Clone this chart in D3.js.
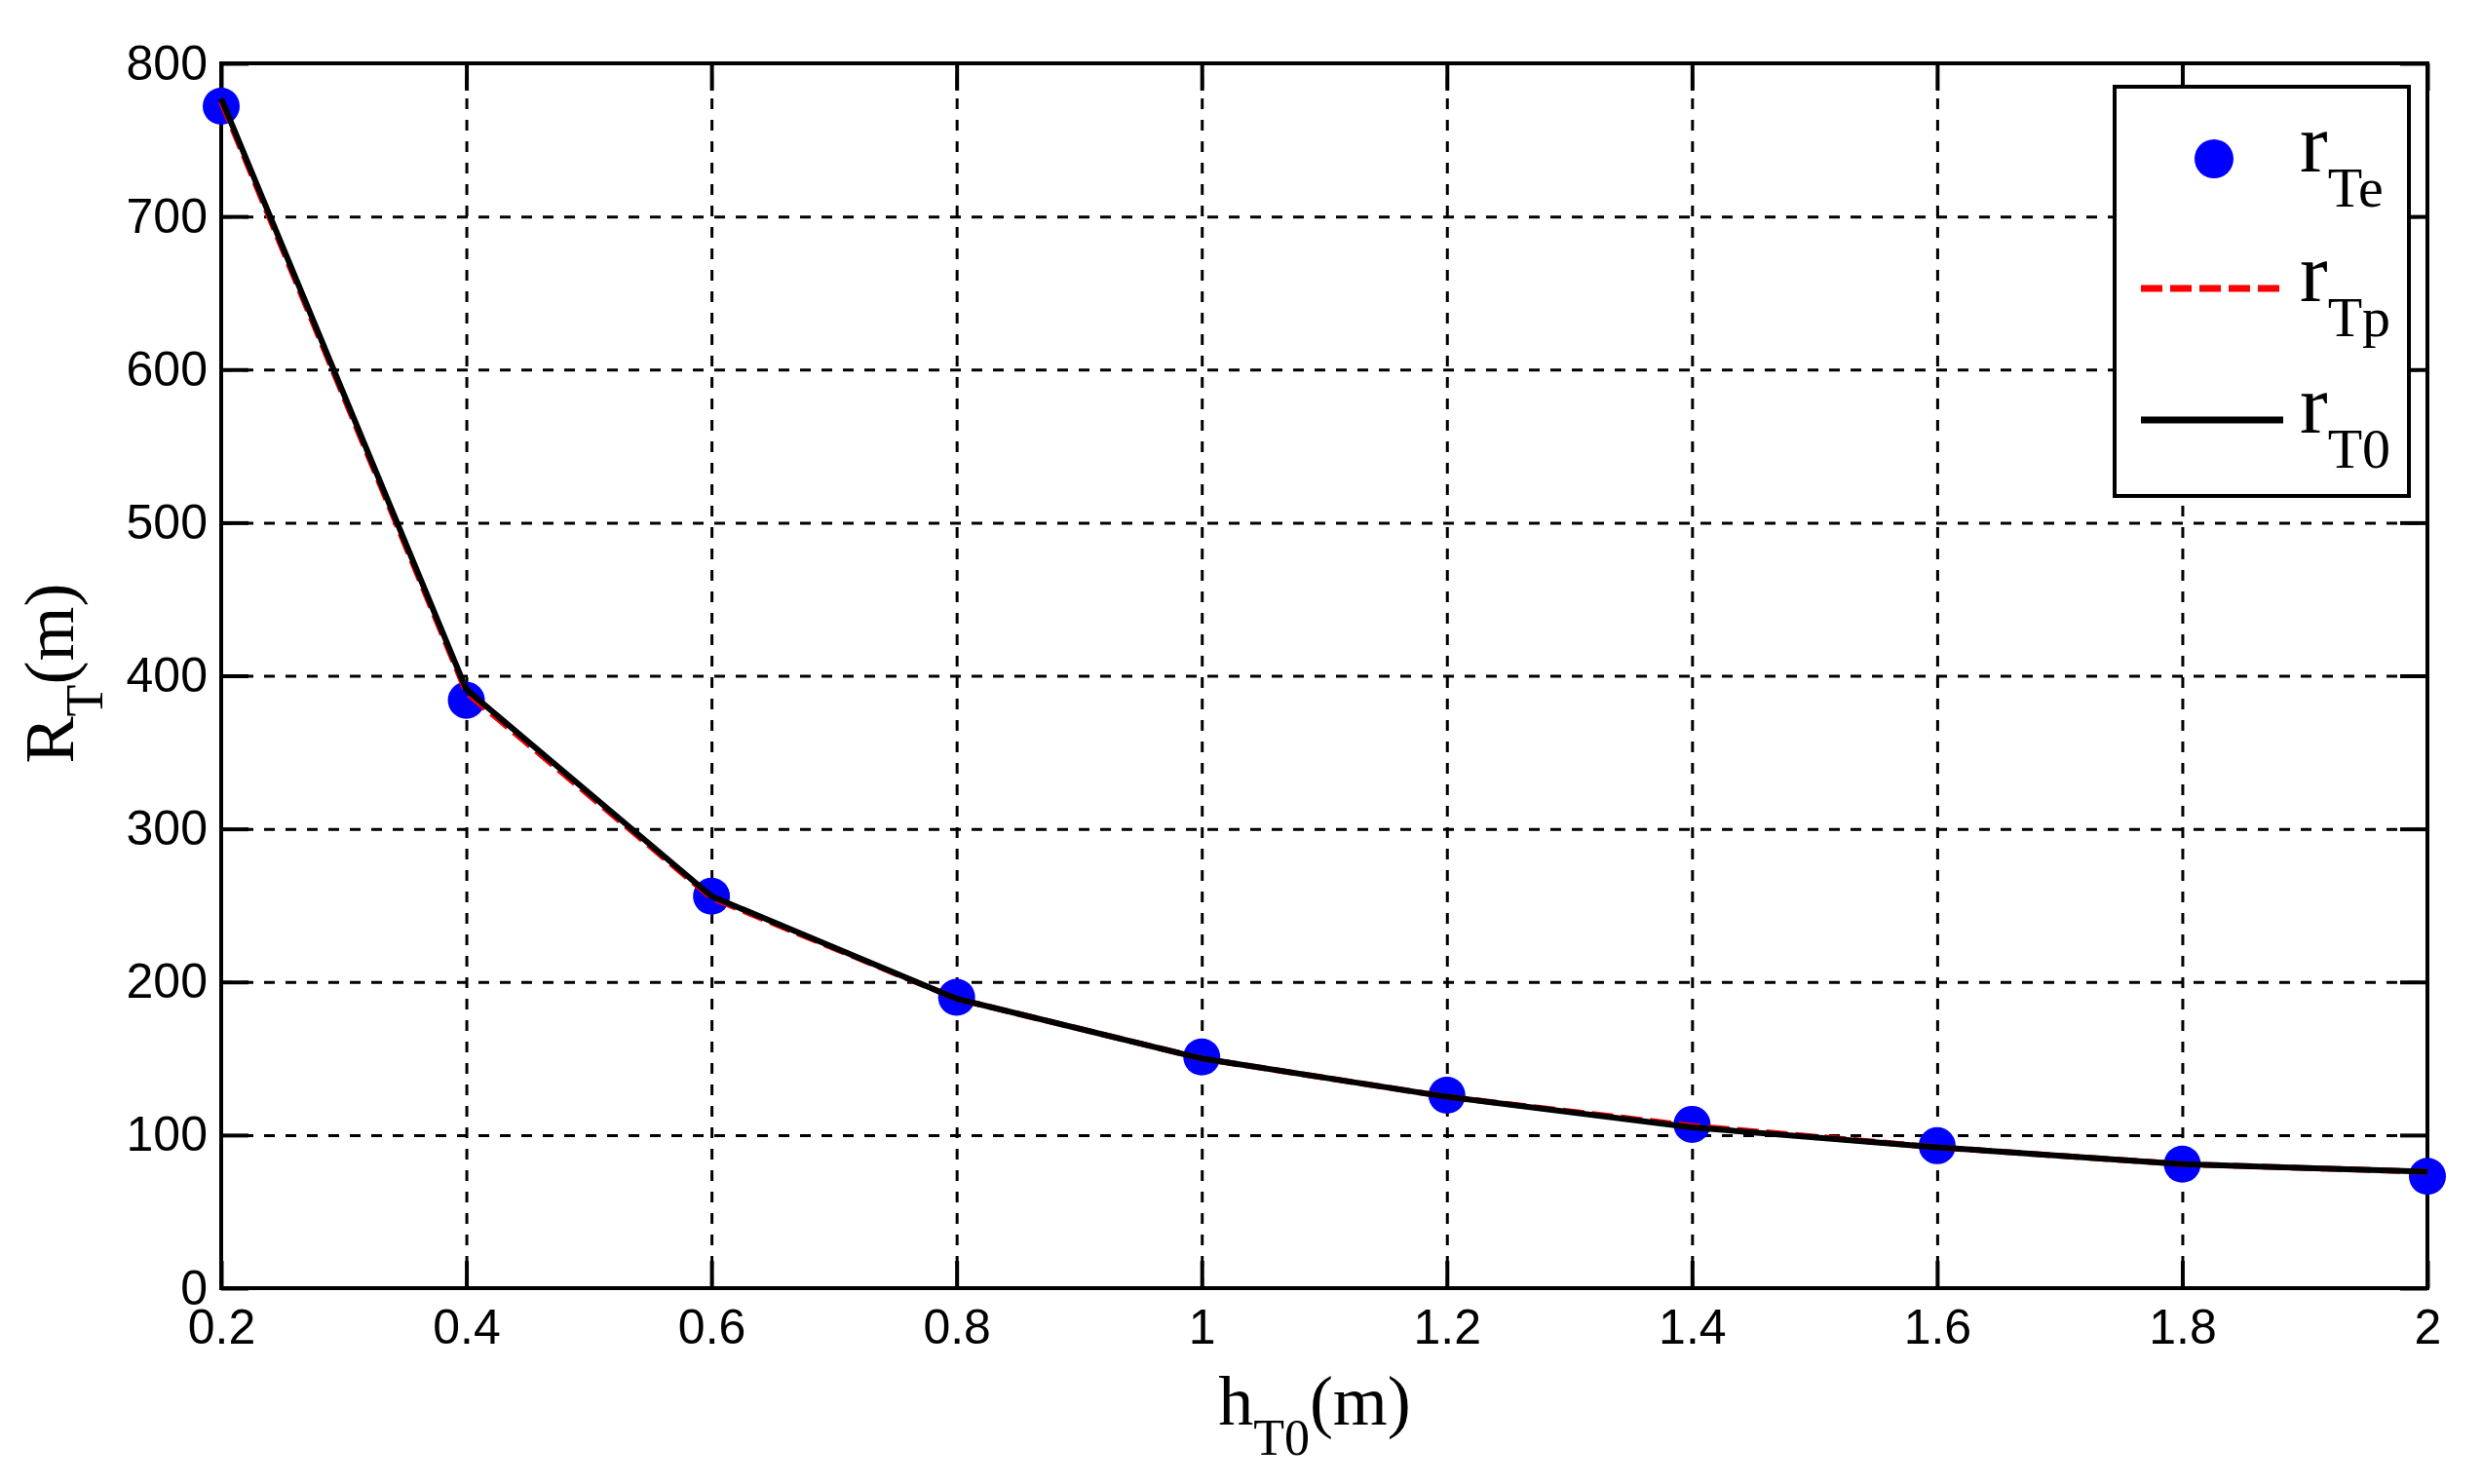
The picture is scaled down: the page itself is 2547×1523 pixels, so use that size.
<!DOCTYPE html>
<html>
<head>
<meta charset="utf-8">
<script src="https://cdn.jsdelivr.net/npm/d3@7"></script>
<style>
  html, body { margin: 0; padding: 0; background: #ffffff; }
  svg { display: block; }
</style>
</head>
<body>
<svg id="chart" width="2547" height="1523"></svg>
<script>
// ---- data ----
const hT0 = [0.2, 0.4, 0.6, 0.8, 1.0, 1.2, 1.4, 1.6, 1.8, 2.0];
const rTe = [772, 384, 256, 190, 151, 126, 107, 93, 81, 73];   // markers
const rTp = [775, 389, 255, 189, 150, 125, 106, 92, 81, 76];   // red dashed
const rT0 = [777, 391, 256, 189, 150, 125, 105, 92, 81, 76];   // black solid
const xTicks = [0.2, 0.4, 0.6, 0.8, 1.0, 1.2, 1.4, 1.6, 1.8, 2.0];
const xTickLabels = ["0.2", "0.4", "0.6", "0.8", "1", "1.2", "1.4", "1.6", "1.8", "2"];
const yTicks = [0, 100, 200, 300, 400, 500, 600, 700, 800];
const yTickLabels = ["0", "100", "200", "300", "400", "500", "600", "700", "800"];
const legendNames = [["r", "Te"], ["r", "Tp"], ["r", "T0"]];

// ---- layout ----
const L = 227, R = 2491, T = 65, B = 1322;
const svg = d3.select("#chart");
const x = d3.scaleLinear().domain([0.2, 2.0]).range([L, R]);
const y = d3.scaleLinear().domain([0, 800]).range([B, T]);
const tickFont = "'Liberation Sans', Arial, Helvetica, sans-serif";
const serif = "'Liberation Serif', 'Times New Roman', Times, serif";
const TL = 28;

svg.append("rect").attr("width", 2547).attr("height", 1523).attr("fill", "#fff");

// ---- grid ----
const gx = svg.append("g").attr("transform", `translate(0,${B})`)
  .call(d3.axisBottom(x).tickValues(xTicks).tickSize(-(B - T)).tickFormat(""));
gx.select(".domain").remove();
gx.selectAll("line").attr("stroke", "#000").attr("stroke-width", 3).attr("stroke-dasharray", "11,11");
const gy = svg.append("g").attr("transform", `translate(${L},0)`)
  .call(d3.axisLeft(y).tickValues(yTicks).tickSize(-(R - L)).tickFormat(""));
gy.select(".domain").remove();
gy.selectAll("line").attr("stroke", "#000").attr("stroke-width", 3).attr("stroke-dasharray", "11,11");

// ---- axes (inward ticks) ----
function styleAxis(g) {
  g.select(".domain").remove();
  g.selectAll(".tick line").attr("stroke", "#000").attr("stroke-width", 4);
  g.selectAll("text").attr("fill", "#000").attr("font-family", tickFont).attr("font-size", 50);
}
const xb = svg.append("g").attr("transform", `translate(0,${B})`)
  .call(d3.axisBottom(x).tickValues(xTicks).tickSize(-TL).tickPadding(21)
    .tickFormat((d, i) => xTickLabels[i]));
styleAxis(xb);
const xt = svg.append("g").attr("transform", `translate(0,${T})`)
  .call(d3.axisTop(x).tickValues(xTicks).tickSize(-TL).tickFormat(""));
styleAxis(xt);
const yl = svg.append("g").attr("transform", `translate(${L},0)`)
  .call(d3.axisLeft(y).tickValues(yTicks).tickSize(-TL).tickPadding(14)
    .tickFormat((d, i) => yTickLabels[i]));
styleAxis(yl);
const yr = svg.append("g").attr("transform", `translate(${R},0)`)
  .call(d3.axisRight(y).tickValues(yTicks).tickSize(-TL).tickFormat(""));
styleAxis(yr);

svg.append("rect").attr("x", L).attr("y", T).attr("width", R - L).attr("height", B - T)
  .attr("fill", "none").attr("stroke", "#000").attr("stroke-width", 4);

// ---- series ----
const pts = (vals) => hT0.map((h, i) => [h, vals[i]]);
const line = d3.line().x(d => x(d[0])).y(d => y(d[1]));

svg.append("g").selectAll("circle").data(pts(rTe)).join("circle")
  .attr("cx", d => x(d[0])).attr("cy", d => y(d[1])).attr("r", 19).attr("fill", "#0000ff");

svg.append("path").datum(pts(rTp)).attr("d", line)
  .attr("fill", "none").attr("stroke", "#ff0000").attr("stroke-width", 6).attr("stroke-dasharray", "22,8");
svg.append("path").datum(pts(rT0)).attr("d", line)
  .attr("fill", "none").attr("stroke", "#000").attr("stroke-width", 6).attr("stroke-linejoin", "round");

// ---- axis titles ----
const xt1 = svg.append("text").attr("x", 1349).attr("y", 1462).attr("text-anchor", "middle")
  .attr("font-family", serif).attr("font-size", 72).attr("fill", "#000");
xt1.append("tspan").text("h");
xt1.append("tspan").attr("dy", 31).attr("font-size", 52).text("T0");
xt1.append("tspan").attr("dy", -31).text("(m)");

const yt1 = svg.append("text").attr("transform", "translate(75,691) rotate(-90)").attr("text-anchor", "middle")
  .attr("font-family", serif).attr("font-size", 72).attr("fill", "#000");
yt1.append("tspan").text("R");
yt1.append("tspan").attr("dy", 30).attr("font-size", 54).text("T");
yt1.append("tspan").attr("dy", -30).text("(m)");

// ---- legend ----
const lg = svg.append("g");
lg.append("rect").attr("x", 2170).attr("y", 89).attr("width", 302).attr("height", 420)
  .attr("fill", "#fff").attr("stroke", "#000").attr("stroke-width", 4);
const rowY = [163, 296, 431];
lg.append("circle").attr("cx", 2272).attr("cy", rowY[0]).attr("r", 20).attr("fill", "#0000ff");
lg.append("line").attr("x1", 2197).attr("x2", 2340).attr("y1", rowY[1]).attr("y2", rowY[1])
  .attr("stroke", "#ff0000").attr("stroke-width", 7).attr("stroke-dasharray", "22,8");
lg.append("line").attr("x1", 2197).attr("x2", 2343).attr("y1", rowY[2]).attr("y2", rowY[2])
  .attr("stroke", "#000").attr("stroke-width", 7);
legendNames.forEach((n, i) => {
  const t = lg.append("text").attr("x", 2360).attr("y", rowY[i] + 13)
    .attr("font-family", serif).attr("font-size", 86).attr("fill", "#000");
  t.append("tspan").text(n[0]);
  t.append("tspan").attr("dy", 36).attr("font-size", 58).text(n[1]);
});
</script>
</body>
</html>
